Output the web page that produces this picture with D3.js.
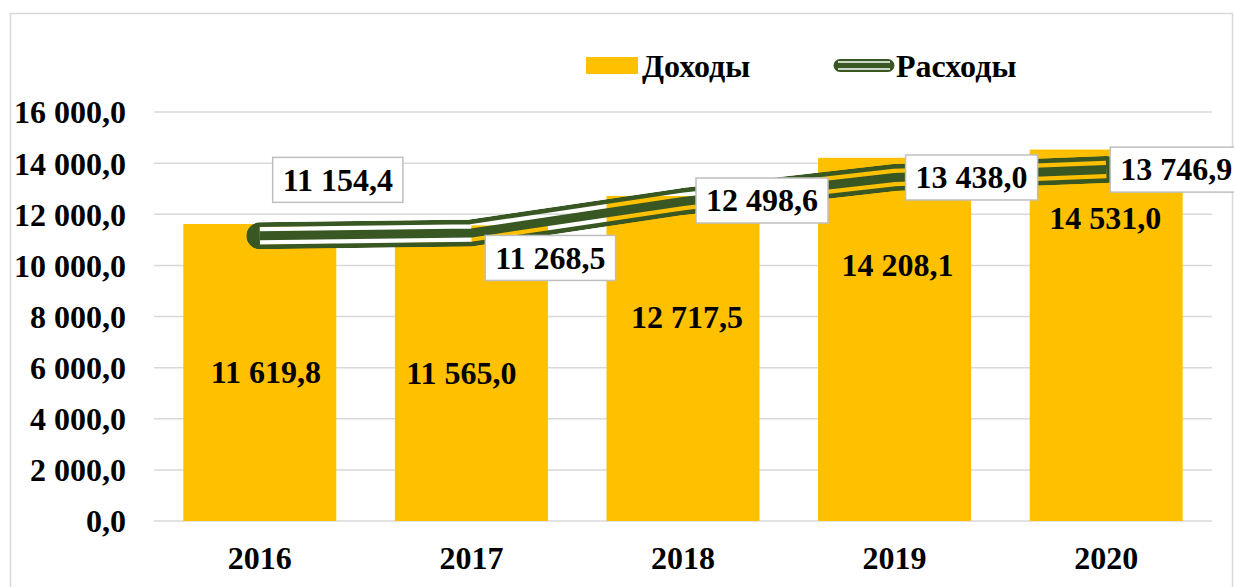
<!DOCTYPE html>
<html lang="ru">
<head>
  <meta charset="UTF-8" />
  <title>Доходы и расходы</title>
  <script src="https://d3js.org/d3.v7.min.js"></script>
  <style>
    body {
      margin: 0;
      background: #fff;
    }

    svg {
      display: block;
    }

    text {
      font-family: "Liberation Serif", "Times New Roman", serif;
      font-weight: bold;
      font-size: 32px;
      fill: #000;
    }
  </style>
</head>
<body>
  <svg id="chart" width="1234" height="587"></svg>

  <script>
    const years = ["2016", "2017", "2018", "2019", "2020"];
    const income = [11619.8, 11565.0, 12717.5, 14208.1, 14531.0];
    const expenses = [11154.4, 11268.5, 12498.6, 13438.0, 13746.9];
    const yTicks = [0, 2000, 4000, 6000, 8000, 10000, 12000, 14000, 16000];
    const seriesNames = ["Доходы", "Расходы"];

    // where the labels sit (hand-placed in the original)
    const incomeLabelAt = [5810, 5790, 7980, 10015, 11853];
    const incomeLabelDx = [6, -10, 4, 3, -1];
    const expenseLabelShift = [[78, -56], [79, 25], [79, -1], [77, 0], [70, 0]];

    const barColor = "#ffc000";
    const lineColor = "#385723";
    const gridColor = "#d9d9d9";

    const ru = d3.formatLocale({ decimal: ",", thousands: " ", grouping: [3], currency: ["", ""] });
    const fmt = ru.format(",.1f");

    const svg = d3.select("#chart");

    // chart frame
    svg.append("rect")
      .attr("x", 10.5).attr("y", 13.5)
      .attr("width", 1222).attr("height", 600)
      .attr("fill", "none")
      .attr("stroke", gridColor)
      .attr("stroke-width", 1.5);

    const x = d3.scaleBand()
      .domain(years)
      .range([154, 1212])
      .paddingInner(0.277)
      .paddingOuter(0.1385);

    const y = d3.scaleLinear()
      .domain([0, 16000])
      .range([521, 112]);

    // gridlines
    svg.append("g")
      .selectAll("line")
      .data(yTicks)
      .join("line")
      .attr("x1", 154).attr("x2", 1212)
      .attr("y1", d => y(d)).attr("y2", d => y(d))
      .attr("stroke", gridColor)
      .attr("stroke-width", 1.5);

    // y axis labels
    const yAxis = d3.axisLeft(y).tickValues(yTicks).tickFormat(fmt).tickSize(0).tickPadding(0);
    const yG = svg.append("g").attr("transform", "translate(126,0)").call(yAxis);
    yG.select(".domain").remove();
    yG.selectAll("text")
      .attr("font-family", null).attr("font-size", null)
      .attr("dy", "0.34em");

    // x axis labels
    const xAxis = d3.axisBottom(x).tickSize(0).tickPadding(0);
    const xG = svg.append("g").attr("transform", "translate(0,547)").call(xAxis);
    xG.select(".domain").remove();
    xG.selectAll("text")
      .attr("font-family", null).attr("font-size", null)
      .attr("dy", "0.7em");

    // bars
    svg.append("g")
      .selectAll("rect")
      .data(income)
      .join("rect")
      .attr("x", (d, i) => x(years[i]))
      .attr("y", d => y(d))
      .attr("width", x.bandwidth())
      .attr("height", d => y(0) - y(d))
      .attr("fill", barColor);

    svg.append("g")
      .selectAll("text")
      .data(income)
      .join("text")
      .attr("x", (d, i) => x(years[i]) + x.bandwidth() / 2 + incomeLabelDx[i])
      .attr("y", (d, i) => y(incomeLabelAt[i]))
      .attr("dy", "0.34em")
      .attr("text-anchor", "middle")
      .text(d => fmt(d));

    // compound line (outer double stroke + core)
    const pts = expenses.map((d, i) => [x(years[i]) + x.bandwidth() / 2, y(d)]);
    const lineGen = d3.line();
    const defs = svg.append("defs");

    const mask = defs.append("mask")
      .attr("id", "lineMask")
      .attr("maskUnits", "userSpaceOnUse")
      .attr("x", 0).attr("y", 0).attr("width", 1234).attr("height", 587);
    mask.append("path")
      .attr("d", lineGen(pts))
      .attr("fill", "none").attr("stroke", "#fff")
      .attr("stroke-width", 27).attr("stroke-linecap", "round").attr("stroke-linejoin", "round");
    mask.append("path")
      .attr("d", lineGen(pts))
      .attr("fill", "none").attr("stroke", "#000")
      .attr("stroke-width", 17.5).attr("stroke-linecap", "butt").attr("stroke-linejoin", "round");

    const lineG = svg.append("g");
    lineG.append("path")
      .attr("d", lineGen(pts.slice(0, 2)))
      .attr("fill", "none").attr("stroke", "#fff")
      .attr("stroke-width", 18);
    lineG.append("path")
      .attr("d", lineGen(pts))
      .attr("fill", "none").attr("stroke", lineColor)
      .attr("stroke-width", 27).attr("stroke-linecap", "round").attr("stroke-linejoin", "round")
      .attr("mask", "url(#lineMask)");
    lineG.append("path")
      .attr("d", lineGen(pts))
      .attr("fill", "none").attr("stroke", lineColor)
      .attr("stroke-width", 9).attr("stroke-linecap", "butt").attr("stroke-linejoin", "round");

    // line labels in boxes
    const lbl = svg.append("g")
      .selectAll("g")
      .data(expenses)
      .join("g")
      .attr("transform", (d, i) =>
        `translate(${pts[i][0] + expenseLabelShift[i][0]},${pts[i][1] + expenseLabelShift[i][1]})`);

    lbl.append("rect");
    lbl.append("text")
      .attr("text-anchor", "middle")
      .attr("dy", "0.34em")
      .text(d => fmt(d));

    lbl.each(function () {
      const g = d3.select(this);
      const w = g.select("text").node().getBBox().width + 20;
      g.select("rect")
        .attr("x", -w / 2).attr("y", -22.5)
        .attr("width", w).attr("height", 45)
        .attr("fill", "#fff")
        .attr("stroke", "#bfbfbf")
        .attr("stroke-width", 1.5);
    });

    // legend
    const legend = svg.append("g");
    legend.append("rect")
      .attr("x", 586).attr("y", 57)
      .attr("width", 52).attr("height", 17)
      .attr("fill", barColor);
    legend.append("text")
      .attr("x", 642).attr("y", 77)
      .text(seriesNames[0]);

    legend.append("line")
      .attr("x1", 840).attr("x2", 888).attr("y1", 65.5).attr("y2", 65.5)
      .attr("stroke", lineColor).attr("stroke-width", 13).attr("stroke-linecap", "round");
    legend.append("line")
      .attr("x1", 838).attr("x2", 890).attr("y1", 62).attr("y2", 62)
      .attr("stroke", "#fff").attr("stroke-width", 1.6);
    legend.append("line")
      .attr("x1", 838).attr("x2", 890).attr("y1", 69).attr("y2", 69)
      .attr("stroke", "#fff").attr("stroke-width", 1.6);
    legend.append("text")
      .attr("x", 896).attr("y", 77)
      .text(seriesNames[1]);
  </script>
</body>
</html>
